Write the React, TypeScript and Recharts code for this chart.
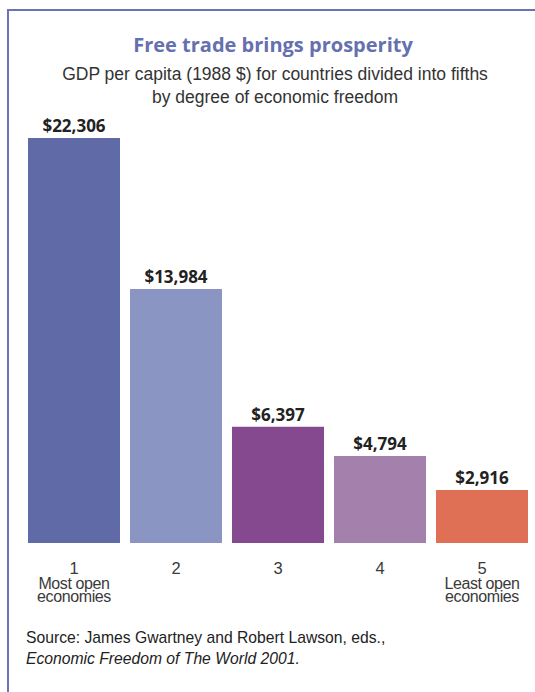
import { Bar, BarChart, Cell, LabelList, XAxis, YAxis } from 'recharts';

// fifths of countries ranked by economic freedom, GDP per capita in 1988 $
const fifths = ['1', '2', '3', '4', '5'];
const gdpPerCapita = [22306, 13984, 6397, 4794, 2916];
const fifthNotes: string[][] = [['Most open', 'economies'], [], [], [], ['Least open', 'economies']];
const barColors = ['#5f6aa6', '#8a95c3', '#84498e', '#a480ad', '#e07055'];

const data = fifths.map((f, i) => ({ fifth: f, gdp: gdpPerCapita[i] }));

const sans = '"Liberation Sans", Arial, sans-serif';
const bold = '"Open Sans", "Noto Sans", sans-serif';

function FifthTick(props: any) {
  const { x, y, payload } = props;
  const idx = fifths.indexOf(String(payload.value));
  const notes = fifthNotes[idx] ?? [];
  // number and its note lines in one text block, tight leading like the print
  return (
    <g transform={`translate(${x},${y})`}>
      <text textAnchor="middle" y={31} fontFamily={sans} fill="#3a3a3a">
        <tspan x={0} fontSize={16.5}>{payload.value}</tspan>
        {notes.map((line, i) => (
          <tspan key={line} x={0} y={46 + i * 13} fontSize={16} letterSpacing={-0.4}>
            {line}
          </tspan>
        ))}
      </text>
    </g>
  );
}

function ValueLabel(props: any) {
  const { x, y, width, value } = props;
  return (
    <text x={x + width / 2} y={y - 6} textAnchor="middle" fontFamily={bold} fontWeight={700} fontSize={17} fill="#222">
      {'$' + Number(value).toLocaleString('en-US')}
    </text>
  );
}

export default function App() {
  return (
    <div style={{ position: 'absolute', left: 0, top: 0, width: 535, height: 692, overflow: 'hidden', background: '#fff' }}>
      <div
        style={{
          position: 'absolute',
          left: 7,
          top: 9,
          width: 700,
          height: 800,
          borderLeft: '2.5px solid #6a72b8',
          borderTop: '2.5px solid #6a72b8',
        }}
      />
      <svg width={535} height={692} style={{ position: 'absolute', left: 0, top: 0 }}>
        <text x={273} y={52} textAnchor="middle" fontFamily={bold} fontWeight={700} fontSize={20} fill="#6570ae">
          Free trade brings prosperity
        </text>
        <text x={275} y={80} textAnchor="middle" fontFamily={sans} fontSize={17.5} fill="#333">
          GDP per capita (1988 $) for countries divided into fifths
        </text>
        <text x={275} y={103} textAnchor="middle" fontFamily={sans} fontSize={17.5} fill="#333">
          by degree of economic freedom
        </text>
        <text x={26} y={643} fontFamily={sans} fontSize={15.7} fill="#222">
          Source: James Gwartney and Robert Lawson, eds.,
        </text>
        <text x={26} y={664} fontFamily={sans} fontSize={15.7} fontStyle="italic" fill="#222">
          Economic Freedom of The World 2001.
        </text>
      </svg>
      <div style={{ position: 'absolute', left: 0, top: 0 }}>
        <BarChart width={535} height={692} data={data} margin={{ top: 138, right: 2, left: 23, bottom: 79 }}>
          <XAxis dataKey="fifth" axisLine={false} tickLine={false} tickSize={0} tickMargin={0} height={70} tick={<FifthTick />} interval={0} />
          <YAxis hide domain={[0, 22306]} />
          <Bar dataKey="gdp" barSize={92} isAnimationActive={false}>
            {data.map((d, i) => (
              <Cell key={d.fifth} fill={barColors[i]} />
            ))}
            <LabelList dataKey="gdp" content={<ValueLabel />} />
          </Bar>
        </BarChart>
      </div>
    </div>
  );
}
